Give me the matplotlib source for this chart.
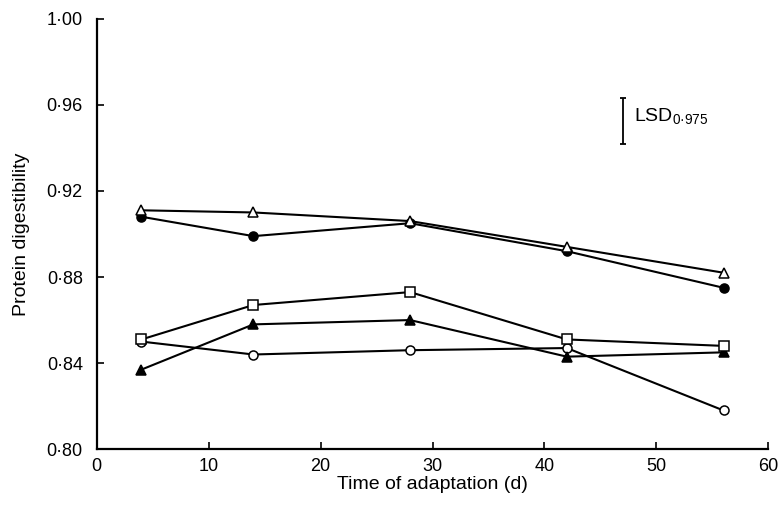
import numpy as np
import matplotlib
matplotlib.use('Agg')
import matplotlib.pyplot as plt

plt.rcParams['font.family'] = ['Liberation Sans', 'DejaVu Sans']

days = [4, 14, 28, 42, 56]
open_tri = [0.911, 0.910, 0.906, 0.894, 0.882]
filled_circ = [0.908, 0.899, 0.905, 0.892, 0.875]
open_sq = [0.851, 0.867, 0.873, 0.851, 0.848]
filled_tri = [0.837, 0.858, 0.860, 0.843, 0.845]
open_circ = [0.850, 0.844, 0.846, 0.847, 0.818]

lsd_x = 47
lsd_lo, lsd_hi = 0.942, 0.963

xticks = [0, 10, 20, 30, 40, 50, 60]
yticks = [0.80, 0.84, 0.88, 0.92, 0.96, 1.00]
ylabels = ['0·80', '0·84', '0·88', '0·92', '0·96', '1·00']

fig = plt.figure(figsize=(7.8, 5.07), dpi=100)
ax = fig.add_axes([0.124, 0.114, 0.861, 0.849])

kw = dict(color='black', lw=1.5, markersize=6.5, markeredgewidth=1.1)
ax.plot(days, open_circ, marker='o', markerfacecolor='white', **kw)
ax.plot(days, filled_tri, marker='^', markerfacecolor='black', **kw)
ax.plot(days, open_sq, marker='s', markerfacecolor='white', **kw)
ax.plot(days, filled_circ, marker='o', markerfacecolor='black', **kw)
ax.plot(days, open_tri, marker='^', markerfacecolor='white', **kw)

# LSD bar
ax.errorbar([lsd_x], [(lsd_lo + lsd_hi) / 2], yerr=[(lsd_hi - lsd_lo) / 2],
            fmt='none', ecolor='black', elinewidth=1.3, capsize=2.5, capthick=1.3)
ax.text(lsd_x + 1.0, (lsd_lo + lsd_hi) / 2 + 0.002, r'LSD$_{\mathregular{0·975}}$',
        fontsize=14, va='center', ha='left')

ax.set_xlim(0, 60)
ax.set_ylim(0.80, 1.00)
ax.set_xticks(xticks)
ax.set_yticks(yticks)
ax.set_yticklabels(ylabels)
for s in ['top', 'right']:
    ax.spines[s].set_visible(False)
ax.spines['left'].set_linewidth(1.6)
ax.spines['bottom'].set_linewidth(1.6)
ax.tick_params(direction='in', length=5, width=1.2, labelsize=13)
ax.tick_params(axis='y', pad=10)
ax.tick_params(axis='x', pad=6)
ax.set_xlabel('Time of adaptation (d)', fontsize=14, labelpad=1)
ax.set_ylabel('Protein digestibility', fontsize=14, labelpad=12)

fig.savefig('out.png', dpi=100)
